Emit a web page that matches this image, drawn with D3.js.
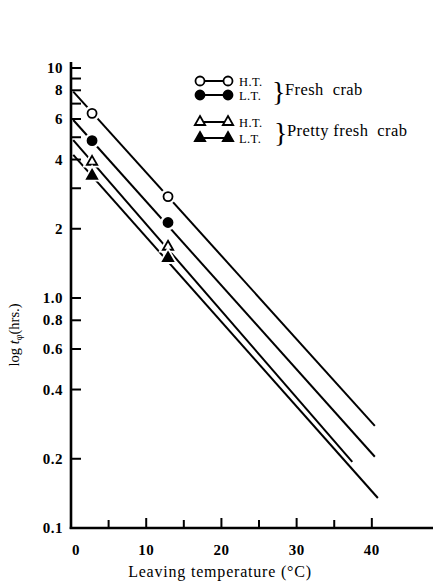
<!DOCTYPE html>
<html>
<head>
<meta charset="utf-8">
<script src="https://cdn.jsdelivr.net/npm/d3@7"></script>
<style>
  body { margin: 0; background: #fff; }
  text { font-family: "Liberation Serif", "DejaVu Serif", serif; fill: #000; }
</style>
</head>
<body>
<div id="chart"></div>
<script>
// temperatures of the measured points (°C)
var temps = [2.8, 12.9];
var seriesKeys = ["freshHT", "freshLT", "prettyHT", "prettyLT"];
var symbols = ["circle", "circle", "triangle", "triangle"];
var filled = [false, true, false, true];
// measured t (hrs.) at the two temperatures
var pointValues = [[6.35, 2.76], [4.83, 2.13], [3.91, 1.67], [3.40, 1.49]];
// fitted lines: start / end
var lineStartT = [0.3, 0.3, 0.3, 0.3];
var lineStartV = [7.9, 5.94, 4.86, 4.19];
var lineEndT = [40.4, 40.4, 37.4, 40.8];
var lineEndV = [0.278, 0.204, 0.194, 0.135];

var yTickValues = [10, 9, 8, 7, 6, 5, 4, 3, 2, 1, 0.8, 0.6, 0.4, 0.2];
var yLabelValues = [10, 8, 6, 4, 2, 1, 0.8, 0.6, 0.4, 0.2, 0.1];
var yLabelText = ["10", "8", "6", "4", "2", "1.0", "0.8", "0.6", "0.4", "0.2", "0.1"];
var xTickValues = [5, 10, 15, 20, 25, 30, 35, 40];
var xLabelValues = [0, 10, 20, 30, 40];

var width = 433, height = 585;

var svg = d3.select("#chart")
    .append("svg")
    .attr("width", width)
    .attr("height", height)

var x = d3.scaleLinear().domain([0, 48]).range([71, 432]);
var y = d3.scaleLog().domain([0.1, 10]).range([528, 68]);
var yTop = y.invert(62);

// axes
svg.append("line")
    .attr("x1", x(0)).attr("x2", x(0))
    .attr("y1", y(yTop)).attr("y2", y(0.1) + 1)
    .attr("stroke", "#000").attr("stroke-width", 2.6)
svg.append("line")
    .attr("x1", x(0) - 1.3).attr("x2", width)
    .attr("y1", y(0.1)).attr("y2", y(0.1))
    .attr("stroke", "#000").attr("stroke-width", 2.6)

svg.selectAll(".ytick")
    .data(yTickValues)
    .enter().append("line")
    .attr("class", "ytick")
    .attr("x1", x(0)).attr("x2", x(0) + 10)
    .attr("y1", d => y(d)).attr("y2", d => y(d))
    .attr("stroke", "#000").attr("stroke-width", 2)

svg.selectAll(".ylab")
    .data(yLabelValues)
    .enter().append("text")
    .attr("class", "ylab")
    .attr("x", x(0) - 8)
    .attr("y", d => y(d) + 5)
    .attr("text-anchor", "end")
    .attr("font-size", 15)
    .attr("font-weight", "bold")
    .attr("letter-spacing", 0.5)
    .text((d, i) => yLabelText[i])

svg.selectAll(".xtick")
    .data(xTickValues)
    .enter().append("line")
    .attr("class", "xtick")
    .attr("x1", d => x(d)).attr("x2", d => x(d))
    .attr("y1", y(0.1)).attr("y2", d => y(0.1) - (d % 10 == 0 ? 10 : 8))
    .attr("stroke", "#000").attr("stroke-width", 2)

svg.selectAll(".xlab")
    .data(xLabelValues)
    .enter().append("text")
    .attr("class", "xlab")
    .attr("x", d => x(d) + (d == 0 ? 5 : 0))
    .attr("y", y(0.1) + 27)
    .attr("text-anchor", "middle")
    .attr("font-size", 15)
    .attr("font-weight", "bold")
    .attr("letter-spacing", 0.5)
    .text(d => d)

svg.append("text")
    .attr("x", 220).attr("y", 577)
    .attr("text-anchor", "middle")
    .attr("font-size", 16)
    .attr("letter-spacing", 0.8)
    .text("Leaving temperature (°C)")

var ylab = svg.append("text")
    .attr("transform", "translate(19,335) rotate(-90)")
    .attr("text-anchor", "middle")
    .attr("font-size", 14.5)
ylab.append("tspan").text("log ")
ylab.append("tspan").attr("font-style", "italic").text("t")
ylab.append("tspan").attr("font-size", 10).attr("dy", 3).text("φ")
ylab.append("tspan").attr("dy", -3).text("(hrs.)")

// fitted lines
svg.selectAll(".fit")
    .data(seriesKeys)
    .enter().append("line")
    .attr("class", "fit")
    .attr("x1", (d, i) => x(lineStartT[i])).attr("y1", (d, i) => y(lineStartV[i]))
    .attr("x2", (d, i) => x(lineEndT[i])).attr("y2", (d, i) => y(lineEndV[i]))
    .attr("stroke", "#000").attr("stroke-width", 2)

function markerPath(sym, big) {
  if (sym == "circle") return d3.symbol(d3.symbolCircle, big ? 190 : 64)();
  return d3.symbol(d3.symbolTriangle, big ? 170 : 46)();
}

// points with white gap around them
seriesKeys.forEach(function(k, i) {
  var g = svg.append("g").attr("class", "pts " + k)
  g.selectAll(".halo")
    .data(pointValues[i])
    .enter().append("path")
    .attr("d", markerPath(symbols[i], true))
    .attr("transform", (d, j) => "translate(" + x(temps[j]) + "," + y(d) + ")")
    .attr("fill", "#fff")
  g.selectAll(".mk")
    .data(pointValues[i])
    .enter().append("path")
    .attr("d", markerPath(symbols[i], false))
    .attr("transform", (d, j) => "translate(" + x(temps[j]) + "," + y(d) + ")")
    .attr("fill", filled[i] ? "#000" : "#fff")
    .attr("stroke", "#000")
    .attr("stroke-width", 1.8)
})

// legend
var legRows = [
  {y: 81, sym: 0, txt: "H.T."},
  {y: 95, sym: 1, txt: "L.T."},
  {y: 122, sym: 2, txt: "H.T."},
  {y: 138, sym: 3, txt: "L.T."}
];
var leg = svg.append("g").attr("class", "legend")
legRows.forEach(function(r) {
  leg.append("line")
    .attr("x1", 200).attr("x2", 228)
    .attr("y1", r.y).attr("y2", r.y)
    .attr("stroke", "#000").attr("stroke-width", 2)
  ;[200, 228].forEach(function(cx) {
    leg.append("path")
      .attr("d", markerPath(symbols[r.sym], false))
      .attr("transform", "translate(" + cx + "," + r.y + ")")
      .attr("fill", filled[r.sym] ? "#000" : "#fff")
      .attr("stroke", "#000").attr("stroke-width", 1.8)
  })
  leg.append("text")
    .attr("x", 239).attr("y", r.y + 4.5)
    .attr("font-size", 12.5)
    .attr("letter-spacing", 0.4)
    .text(r.txt)
})
leg.append("text").attr("x", 272).attr("y", 101).attr("font-size", 28).text("}")
leg.append("text").attr("x", 285).attr("y", 95).attr("font-size", 16.5)
  .attr("letter-spacing", 0.4).attr("xml:space", "preserve").text("Fresh  crab")
leg.append("text").attr("x", 274).attr("y", 142).attr("font-size", 28).text("}")
leg.append("text").attr("x", 287).attr("y", 136).attr("font-size", 16.5)
  .attr("letter-spacing", 0.4).attr("xml:space", "preserve").text("Pretty fresh  crab")
</script>
</body>
</html>
